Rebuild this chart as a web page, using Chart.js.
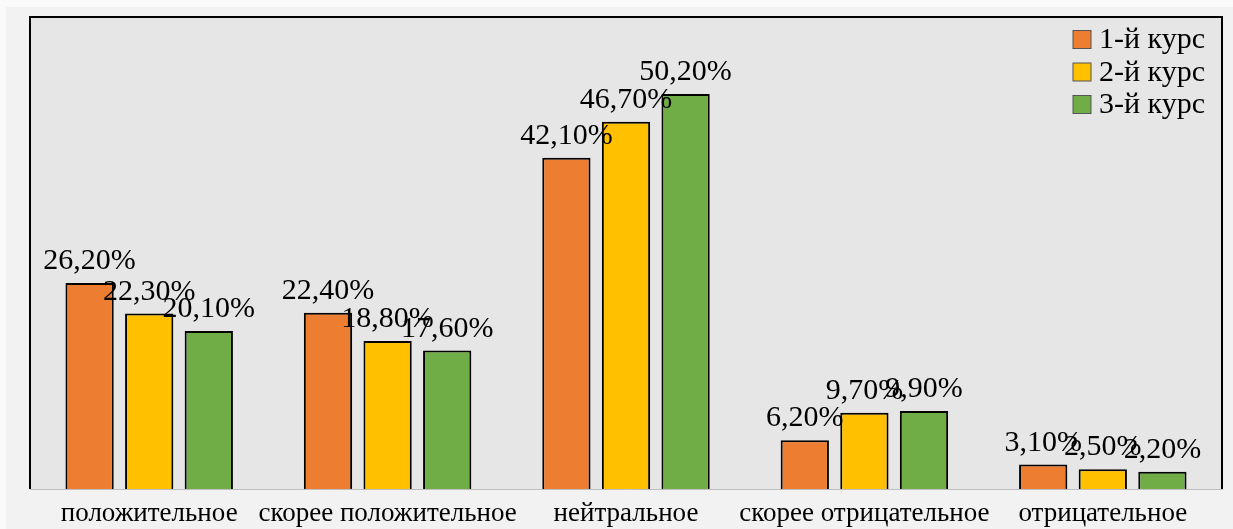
<!DOCTYPE html>
<html lang="ru">
<head>
<meta charset="utf-8">
<title>Отношение по курсам</title>
<script src="https://cdn.jsdelivr.net/npm/chart.js@4"></script>
<style>
  html, body { margin: 0; padding: 0; background: #fafafa; overflow: hidden; }
  #wrap { position: absolute; left: 6px; top: 7px; width: 1227px; height: 522px; background: #f2f2f2; }
</style>
</head>
<body>
<div id="wrap"><canvas id="chart"></canvas></div>
<script>
// --- ДАНІ ---
const categories = ['положительное', 'скорее положительное', 'нейтральное', 'скорее отрицательное', 'отрицательное'];
const seriesNames = ['1-й курс', '2-й курс', '3-й курс'];
const course1 = [26.2, 22.4, 42.1, 6.2, 3.1];
const course2 = [22.3, 18.8, 46.7, 9.7, 2.5];
const course3 = [20.1, 17.6, 50.2, 9.9, 2.2];
const colors = ['#ED7D31', '#FFC000', '#70AD47'];

const serif = "'Liberation Serif', 'Times New Roman', serif";
const fmt = (v) => v.toFixed(2).replace('.', ',') + '%';

// фон області побудови + рамка
const plotArea = {
    id: 'plotArea',
    beforeDraw(chart) {
        const { ctx, chartArea: a } = chart;
        ctx.save();
        ctx.fillStyle = '#e7e6e6';
        ctx.fillRect(a.left, a.top, a.right - a.left, a.bottom - a.top);
        ctx.strokeStyle = '#000';
        ctx.lineWidth = 2;
        ctx.beginPath();
        ctx.moveTo(a.left, a.bottom);
        ctx.lineTo(a.left, a.top);
        ctx.lineTo(a.right, a.top);
        ctx.lineTo(a.right, a.bottom);
        ctx.stroke();
        ctx.restore();
    }
};

// підписи значень над стовпцями
const valueLabels = {
    id: 'valueLabels',
    afterDatasetsDraw(chart) {
        const { ctx } = chart;
        ctx.save();
        ctx.font = `30px ${serif}`;
        ctx.fillStyle = '#000';
        ctx.textAlign = 'center';
        ctx.textBaseline = 'alphabetic';
        chart.data.datasets.forEach((ds, i) => {
            chart.getDatasetMeta(i).data.forEach((bar, j) => {
                ctx.fillText(fmt(ds.data[j]), bar.x, bar.y - 14);
            });
        });
        ctx.restore();
    }
};

// легенда у правому верхньому куті
const cornerLegend = {
    id: 'cornerLegend',
    afterDraw(chart) {
        const { ctx, chartArea: a } = chart;
        ctx.save();
        ctx.font = `30px ${serif}`;
        ctx.textBaseline = 'middle';
        chart.data.datasets.forEach((ds, i) => {
            const cy = a.top + 22.5 + i * 32.5;
            ctx.fillStyle = ds.backgroundColor;
            ctx.fillRect(a.right - 149, cy - 9, 18, 18);
            ctx.strokeStyle = '#555';
            ctx.lineWidth = 1;
            ctx.strokeRect(a.right - 149, cy - 9, 18, 18);
            ctx.fillStyle = '#000';
            ctx.fillText(ds.label, a.right - 123, cy + 1);
        });
        ctx.restore();
    }
};

const datasets = [course1, course2, course3].map((data, i) => ({
    label: seriesNames[i],
    data: data,
    backgroundColor: colors[i],
    borderColor: '#000',
    borderWidth: 2,
    categoryPercentage: 0.75,
    barPercentage: 0.81
}));

new Chart(document.getElementById('chart'), {
    type: 'bar',
    data: { labels: categories, datasets },
    options: {
        animation: false,
        responsive: true,
        maintainAspectRatio: false,
        layout: { padding: { left: 24, top: 10, right: 11, bottom: 0 } },
        plugins: { legend: { display: false }, tooltip: { enabled: false } },
        scales: {
            x: {
                grid: { display: false, drawTicks: false },
                border: { display: true, color: '#bfbfbf', width: 1 },
                ticks: { color: '#000', font: { family: serif, size: 27 }, padding: 9, maxRotation: 0, autoSkip: false },
                afterFit: (scale) => { scale.height = 40; }
            },
            y: { display: false, min: 0, max: 60 }
        }
    },
    plugins: [plotArea, valueLabels, cornerLegend]
});
</script>
</body>
</html>
